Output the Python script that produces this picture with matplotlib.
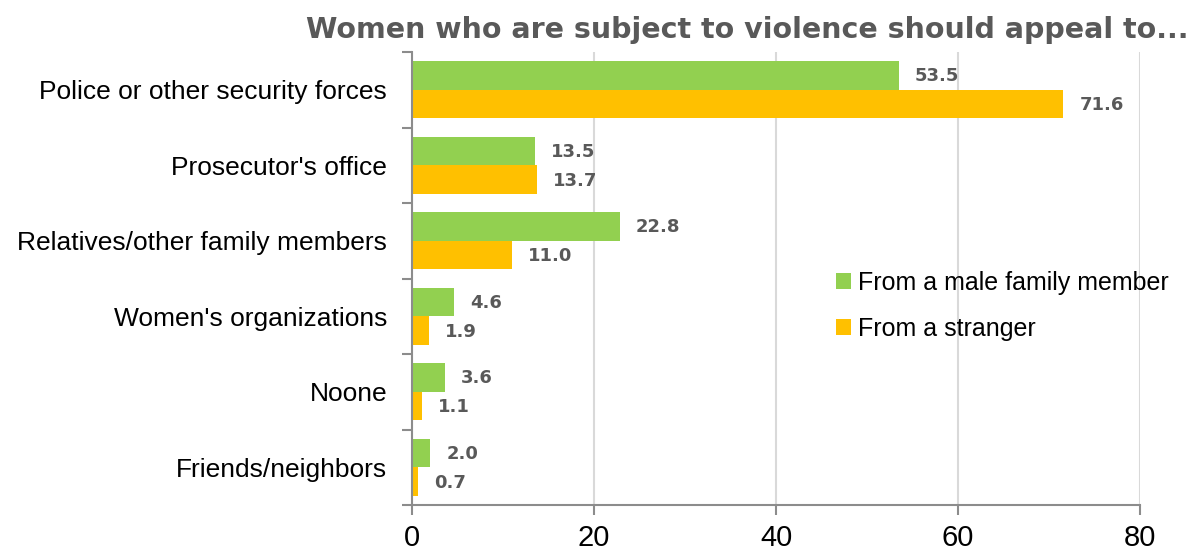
import numpy as np
import matplotlib.pyplot as plt
from matplotlib.ticker import FixedLocator

categories = ["Police or other security forces", "Prosecutor's office",
              "Relatives/other family members", "Women's organizations",
              "Noone", "Friends/neighbors"]
male_family = [53.5, 13.5, 22.8, 4.6, 3.6, 2.0]
stranger = [71.6, 13.7, 11.0, 1.9, 1.1, 0.7]
series_names = ["From a male family member", "From a stranger"]

green = "#92D050"
orange = "#FFC000"
grey = "#595959"

plt.rcParams['font.family'] = ['Liberation Sans', 'DejaVu Sans']

fig = plt.figure(figsize=(11.98, 5.51), dpi=100)
ax = fig.add_axes([0.344, 0.0835, 0.6075, 0.822])

y = np.arange(len(categories))
h = 0.38
b1 = ax.barh(y - h / 2, male_family, height=h, color=green, label=series_names[0])
b2 = ax.barh(y + h / 2, stranger, height=h, color=orange, label=series_names[1])

# value labels just past the end of each bar
for bars, vals in ((b1, male_family), (b2, stranger)):
    for bar, v in zip(bars, vals):
        ax.annotate(f"{v:.1f}", (v, bar.get_y() + bar.get_height() / 2),
                    xytext=(16, -1), textcoords="offset pixels",
                    va="center", ha="left", fontsize=13, fontweight="heavy",
                    color=grey, family="DejaVu Sans")

ax.set_xlim(0, 80)
ax.set_ylim(len(categories) - 0.5, -0.5)
ax.set_xticks([0, 20, 40, 60, 80])
ax.tick_params(axis="x", labelsize=21, length=7, color="#8c8c8c", width=1.5, pad=7)
ax.set_yticks(y)
ax.set_yticklabels(categories)
ax.tick_params(axis="y", which="major", length=0, labelsize=19, pad=18)
ax.yaxis.set_minor_locator(FixedLocator(np.arange(-0.5, len(categories), 1.0)))
ax.tick_params(axis="y", which="minor", length=7, color="#8c8c8c", width=1.5)

ax.grid(axis="x", color="#d9d9d9", linewidth=1.5)
ax.set_axisbelow(True)
for s in ("top", "right"):
    ax.spines[s].set_visible(False)
for s in ("left", "bottom"):
    ax.spines[s].set_color("#8c8c8c")
    ax.spines[s].set_linewidth(1.5)

ax.legend(loc="upper left", bbox_to_anchor=(0.565, 0.545), frameon=False,
          fontsize=18, handlelength=0.6, handleheight=0.6, handletextpad=0.3,
          labelspacing=0.9, borderpad=0)

fig.text(0.992, 0.945, "Women who are subject to violence should appeal to...",
         ha="right", va="center", fontsize=20.5, fontweight="heavy", color=grey,
         family="DejaVu Sans")

fig.savefig("out.png", dpi=100)
